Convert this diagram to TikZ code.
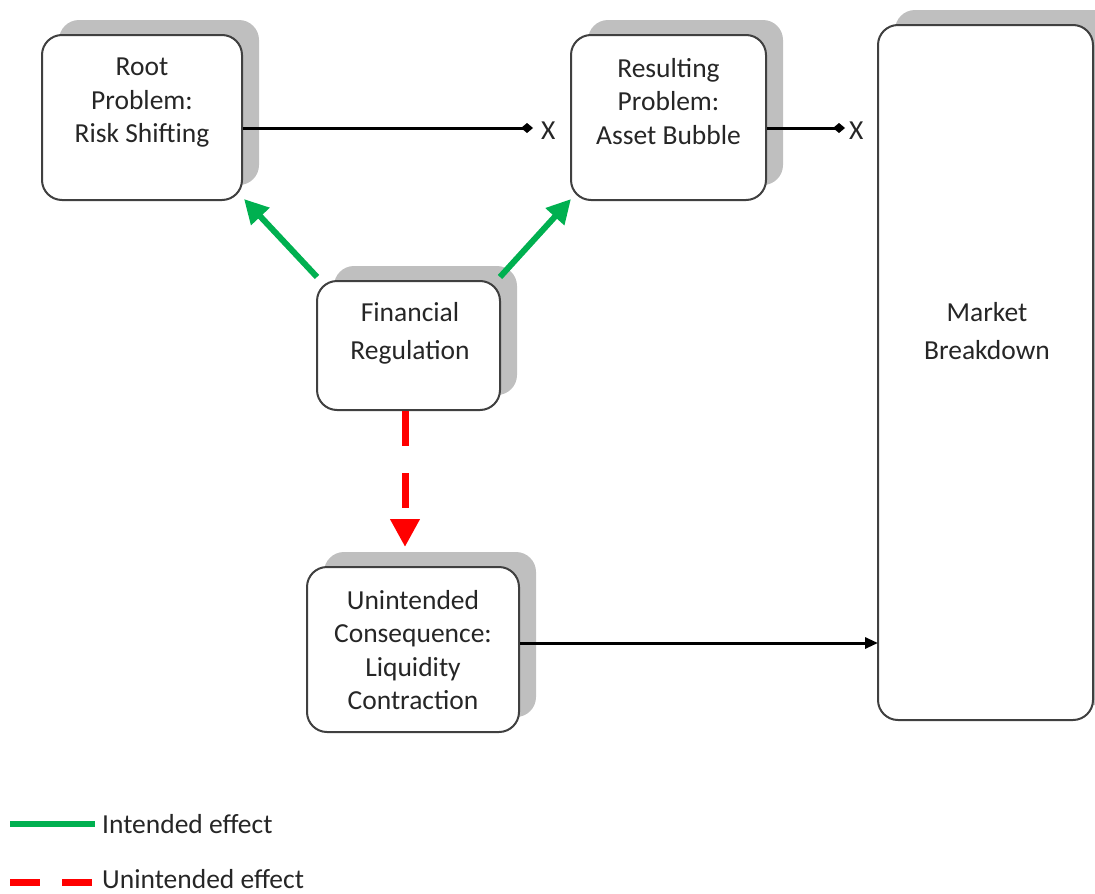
\documentclass[tikz,border=0pt]{standalone}
\usepackage{fontspec}
\setmainfont{Carlito}
\usetikzlibrary{arrows.meta,shadows}
\definecolor{boxline}{HTML}{404040}
\definecolor{shade}{HTML}{BFBFBF}
\definecolor{okgreen}{HTML}{00B050}
\definecolor{badred}{HTML}{FF0000}
\definecolor{txt}{HTML}{262626}
\tikzset{
  box/.style={draw=boxline, line width=2pt, fill=white, rectangle, rounded corners=20pt,
    inner sep=0pt, drop shadow={shadow xshift=17pt, shadow yshift=15pt, fill=shade, opacity=1}},
  lbl/.style={font=\fontsize{27.5}{33.5}\selectfont, text=txt, align=center, inner sep=0pt},
  lblwide/.style={font=\fontsize{27.5}{38}\selectfont, text=txt, align=center, inner sep=0pt},
  blk/.style={line width=3pt, draw=black},
  intended/.style={line width=6pt, draw=okgreen, -{Triangle[length=24pt,width=24pt]}},
  unintended/.style={line width=7pt, draw=badred, dash pattern=on 35pt off 27pt, -{Triangle[length=28pt,width=28pt]}},
}
\begin{document}
\begin{tikzpicture}[x=1pt,y=-1pt]
\useasboundingbox (0,0) rectangle (1095,894);
% boxes
\node[box, minimum width=200pt, minimum height=165pt] (root) at (142,117.5) {};
\node[box, minimum width=195pt, minimum height=165pt] (res) at (668.5,117.5) {};
\node[box, minimum width=183pt, minimum height=129pt] (fin) at (408.5,345.5) {};
\node[box, minimum width=212pt, minimum height=165pt] (unint) at (413,649.5) {};
\node[box, minimum width=215pt, minimum height=695pt, drop shadow={shadow xshift=22pt, shadow yshift=15pt, fill=shade, opacity=1}] (market) at (985.5,372.5) {};
% texts
\node[lbl, anchor=north] (rootT) at (142,58) {Root\\Problem:\\Risk Shifting};
\node[lbl, anchor=north] (resT) at (668.5,58) {Resulting\\Problem:\\Asset Bubble};
\node[lblwide, anchor=north] (finT) at (410,302) {Financial\\Regulation};
\node[lbl, anchor=north] (unintT) at (413,590) {Unintended\\Consequence:\\Liquidity\\Contraction};
\node[lblwide, anchor=north] (marketT) at (987,302) {Market\\Breakdown};
% X ends
\coordinate (x1) at (533,128);
\coordinate (x2) at (845,128);
\node[lbl, anchor=west] (xa) at (541,131) {X};
\node[lbl, anchor=west] (xb) at (849,131) {X};
\draw[blk, -{Diamond[length=12pt,width=10pt]}] (root.east |- x1) -- (x1);
\draw[blk, -{Diamond[length=12pt,width=10pt]}] (res.east |- x2) -- (x2);
% to market
\coordinate (m1) at (878,643);
\draw[blk, -{Triangle[length=13pt,width=11pt]}] (unint.east |- m1) -- (m1);
% green arrows
\draw[intended] ([xshift=1pt,yshift=3pt]fin.north west) -- ([xshift=1pt,yshift=2pt]root.south east);
\draw[intended] ([xshift=-1pt,yshift=3pt]fin.north east) -- ([xshift=1pt,yshift=2pt]res.south west);
% red dashed
\draw[unintended, shorten >=19pt] ([xshift=-3.5pt]fin.south) -- ([xshift=-8pt]unint.north);
% legend
\coordinate (g1) at (10,824);
\coordinate (g2) at (95,824);
\coordinate (r1) at (10,882);
\coordinate (r2) at (92,882);
\draw[line width=6pt, okgreen] (g1) -- (g2);
\draw[line width=7pt, badred, dash pattern=on 30pt off 22pt] (r1) -- (r2);
\node[lbl, anchor=west] (legI) at (102,824) {Intended effect};
\node[lbl, anchor=west] (legU) at (102,879) {Unintended effect};
\end{tikzpicture}
\end{document}
